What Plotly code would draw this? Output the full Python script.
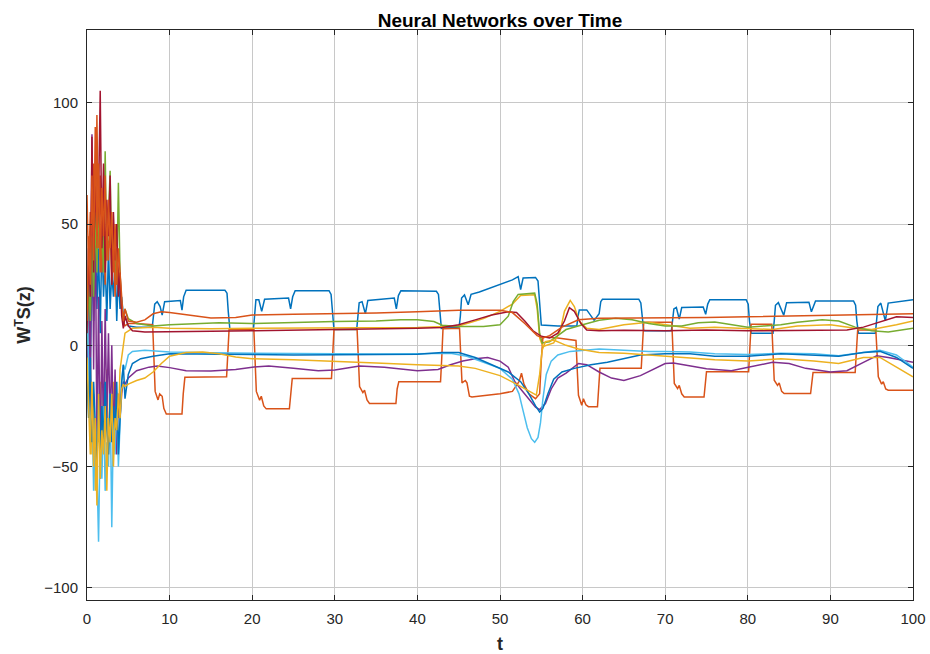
import plotly.graph_objects as go

# ---------------- data ----------------
t_noise = [0.0, 0.2, 0.4, 0.6, 0.8, 1.0, 1.2, 1.4, 1.6, 1.8, 2.0, 2.2, 2.4, 2.6, 2.8, 3.0,
           3.2, 3.4, 3.6, 3.8, 4.0, 4.2, 4.4]

# series 1: blue, upper square wave
y_noise_blue1 = [5, 20, -10, 35, 10, 50, 15, 40, 5, 45, 20, 35, 10, 40, 15, 30, 20, 35, 10, 30, 15, 20, 12]
t_blue1 = [4.6, 5.0, 6.0, 7.9,
           8.05, 8.2, 8.5, 8.85, 9.1, 9.4, 11.3, 11.5, 11.7, 12.0, 16.7, 16.95, 17.1, 17.3,
           20.15, 20.3, 20.45, 20.8, 21.15, 21.5, 24.4, 24.65, 24.9, 25.2, 29.3, 29.55, 29.7, 29.9,
           32.65, 32.8, 32.95, 33.3, 33.7, 34.0, 37.2, 37.45, 37.7, 38.0, 42.3, 42.55, 42.7, 42.9,
           45.05, 45.2, 45.35, 45.7, 46.15, 46.5, 47.5, 50.0, 51.5, 52.2, 52.5, 52.8, 54.3, 54.6, 54.8, 55.0,
           57.0, 59.3, 59.45, 59.6, 60.5, 61.0, 61.4, 62.0, 62.2, 62.4, 66.8, 67.05, 67.2, 67.4,
           70.75, 70.9, 71.05, 71.35, 71.7, 72.0, 74.6, 74.9, 75.15, 75.4, 79.8, 80.05, 80.2, 80.4,
           83.05, 83.2, 83.35, 83.7, 84.35, 84.7, 87.4, 87.7, 87.95, 88.2, 92.8, 93.05, 93.2, 93.4,
           95.45, 95.6, 95.75, 96.1, 96.65, 97.0, 100.0]
y_blue1 = [12, 8, 7.5, 7.5,
           12, 17, 18, 16, 12.5, 18, 18.5, 14.5, 20, 22.7, 22.7, 21.5, 14, 6.5,
           6.5, 12, 18.8, 18.8, 14, 19, 19.5, 15, 20, 22.5, 22.5, 21, 13, 6.5,
           6.5, 12, 17.5, 18, 13, 18.5, 19.5, 15, 20.5, 22.5, 22.3, 21, 13, 7,
           7.5, 12, 19.5, 20.8, 16.7, 21, 22, 25, 27, 28.3, 23, 27.8, 28, 26.5, 18, 8.4,
           8, 8, 12, 14.6, 14.6, 12, 10.3, 13, 18, 19, 19, 17.5, 11, 6,
           6, 10, 15, 15.6, 10.8, 15.6, 15.8, 12.8, 17, 18.8, 18.8, 17, 10, 5,
           5, 10, 16.5, 17.6, 12.4, 17.6, 17.8, 13.8, 16.5, 18.3, 18.3, 16.5, 10, 5,
           5, 10, 16, 17.4, 10.1, 17.4, 18.8]

# series 2: orange, lower square wave
y_noise_orange2 = [62, 30, 55, 20, 75, 35, 95, 40, 70, 30, 60, 25, 55, 35, 50, 25, 45, 20, 40, 30, 25, 15, 10]
t_orange2 = [4.6, 5.0, 6.0, 7.95,
             8.1, 8.25, 8.6, 8.8, 9.1, 9.3, 9.6, 11.5, 11.65, 11.85, 16.9, 17.05, 17.2,
             20.2, 20.35, 20.5, 20.9, 21.1, 21.4, 21.7, 24.5, 24.65, 24.85, 29.6, 29.75, 29.9,
             32.7, 32.85, 33.0, 33.4, 33.6, 33.9, 34.2, 37.4, 37.55, 37.75, 42.8, 42.95, 43.1,
             45.1, 45.25, 45.4, 45.8, 46.0, 46.3, 46.6, 50.0, 51.5, 52.3, 52.6, 52.9, 53.5, 54.3, 54.8, 55.0, 55.2, 57.0,
             59.2, 59.35, 59.5, 59.9, 60.1, 60.4, 60.7, 61.8, 61.95, 62.1, 67.1, 67.25, 67.4,
             70.8, 70.95, 71.1, 71.5, 71.7, 72.0, 72.3, 74.7, 74.85, 75.0, 80.1, 80.25, 80.4,
             82.9, 83.05, 83.2, 83.6, 83.8, 84.1, 84.4, 87.6, 87.75, 87.9, 93.0, 93.15, 93.3,
             95.5, 95.65, 95.8, 96.2, 96.4, 96.7, 97.0, 100.0]
y_orange2 = [8, 9, 9, 8.5,
             -8, -19, -22.5, -20, -21, -26, -28.3, -28.3, -20, -13.2, -13, -4, 6.5,
             6.5, -8, -19, -22.6, -21, -25, -26.2, -26.2, -20, -13.7, -13.7, -4, 6.5,
             6.5, -8, -17, -19.5, -18.5, -22.5, -24, -24, -18, -15, -15, -5, 6.8,
             7, -8, -15.5, -14.5, -15.5, -21, -21.3, -20, -19, -15, -11.5, -16, -20, -22, -20, -6, 3.5, 3,
             2, -10, -20.6, -24.7, -22, -24.5, -25.3, -25.3, -16, -9.5, -9.5, 0, 9.5,
             9.5, -8, -15.7, -17.8, -16.5, -20, -21.3, -21.3, -15, -10.9, -10.9, 0, 8.7,
             8.7, -6, -14.4, -16.5, -15.5, -19, -19.9, -19.9, -14, -11.2, -11.2, 0, 6.3,
             6.3, -6, -13, -16, -15, -18, -18.5, -18.5]

# series 3: yellow, upper
y_noise_yellow3 = [-10, -30, -5, -45, -20, -60, -25, -40, -15, -50, -20, -35, -10, -45, -25, -30, -15, -40, -20, -30, -10, -5, 2]
t_yellow3 = [4.6, 5.5, 8, 10, 15, 20, 30, 40, 45, 48, 50, 51.5, 52.5, 54.2, 54.5, 54.8, 55.2, 56.5,
             57.3, 57.8, 58.5, 59.0, 59.6, 60.5, 62, 65, 68, 70, 73, 76, 80, 83, 86, 90, 93, 95, 98, 100]
y_yellow3 = [5, 7, 7.5, 7, 6.8, 7, 7, 7.3, 8, 11, 14, 17, 20.5, 20.8, 15, 3, -0.5, 1,
             6, 14, 18.5, 16, 10, 7, 6.5, 8.5, 9.5, 8.5, 7, 7.5, 7, 6.5, 8, 8.5, 7, 6.5, 8.5, 10]

# series 4: purple
y_noise_purple4 = [-20, 40, -30, 87, -10, 60, -45, 20, -55, 10, -40, 15, -30, 5, -35, 0, -40, -10, -45, -20, -30, -20, -15]
t_purple4 = [4.6, 5.0, 6, 7.5, 8.5, 10, 12, 15, 18, 20, 22, 25, 28, 30, 33, 36, 40, 42.5, 44, 45.5, 47, 48.5,
             50, 51, 51.8, 52.5, 53.3, 54.3, 54.8, 55.5, 56.2, 57, 58, 59.5, 60.5, 62, 63.5, 65, 67, 70, 71,
             73, 75, 78, 80, 83, 85, 87, 90, 92, 94, 95.6, 97, 100]
y_purple4 = [-16, -13.5, -10.5, -9, -8.5, -9.2, -10.5, -10.6, -10, -9, -8.5, -9.5, -10.5, -10.2, -8.5, -9, -10.5, -10, -8, -6.5, -5.5, -5,
             -6.5, -9, -15, -18, -21.5, -25.5, -26.5, -24, -18, -13.5, -11.5, -7.5, -8, -11, -13.5, -14.5, -12.5, -7.5, -7.3,
             -8.5, -9.7, -10.5, -9, -7, -7.5, -9.5, -11, -10.5, -7, -4.3, -5, -7]

# series 5: green
y_noise_green5 = [0, 25, 10, 45, 20, 55, 30, 60, 35, 50, 30, 80, 35, 55, 72, 30, 50, 40, 25, 67, 30, 15, 10]
t_green5 = [4.6, 5, 6, 7, 8, 10, 13, 16, 20, 25, 30, 35, 38, 40, 42, 43, 45, 48, 50, 51, 51.6, 52.2, 54.2, 54.5,
            54.8, 55.1, 56, 57, 58, 60, 62, 64, 66, 68, 70, 72, 74, 76, 78, 80, 82, 84, 86, 89, 91, 93, 95, 97, 100]
y_green5 = [15, 11, 9, 8.5, 8, 8.5, 9, 9.3, 9, 9.5, 9.8, 10, 10.5, 10.5, 9.8, 8.3, 7.8, 7.8, 8.5, 12, 18, 21, 21.5, 17,
            5, 1, 1.5, 4, 6.5, 8.5, 10.3, 11.2, 10.5, 9, 8, 8, 9.3, 9.6, 8.5, 7.5, 8, 8.5, 9.5, 10.5, 10, 7.5, 6, 5.5, 7]

# series 6: light blue
y_noise_lblue6 = [20, -10, -40, -20, -60, -30, -50, -81, -35, -55, -25, -60, -40, -50, -20, -75, -30, -45, -20, -50, -30, -15, -8]
t_lblue6 = [4.6, 5.0, 5.5, 7, 10, 15, 20, 25, 30, 35, 40, 44, 46, 48, 50, 51.5, 52.3, 52.8, 53.3, 53.8, 54.2, 54.6,
            54.9, 55.2, 55.6, 56.2, 57, 58.5, 60, 62, 65, 68, 70, 73, 76, 80, 84, 88, 91, 94, 96, 98, 100]
y_lblue6 = [-10, -4, -2.5, -2, -2.8, -3.1, -3.3, -3.3, -3.5, -3.6, -3.5, -3.3, -4.5, -7, -9.5, -14, -20, -27, -34, -38.5, -40, -38,
            -32, -22, -12, -6.5, -4, -2.5, -2, -1.5, -2, -2.5, -2.5, -2.8, -3.5, -3.8, -3.3, -3.5, -4.3, -2.8, -2, -4, -9]

# series 7: dark red
y_noise_dred7 = [5, 40, 20, 86, 30, 70, 45, 60, 105, 40, 75, 30, 60, 45, 70, 25, 55, 35, 50, 20, 30, 12, 7]
t_dred7 = [4.6, 5, 5.5, 7, 10, 15, 20, 25, 30, 35, 40, 43, 45, 47, 49, 51, 52, 53, 54, 55, 56, 57, 57.8, 58.4,
           59, 59.8, 60.5, 62, 65, 70, 75, 80, 85, 90, 92, 94, 96, 98, 100]
y_dred7 = [12, 8, 6, 5.5, 5.5, 5.8, 6, 6.2, 6.5, 6.7, 7, 7.3, 8.5, 10.5, 12.5, 13.8, 13.5, 10, 6, 3.7, 3, 5, 10, 15.5,
           14, 9, 6.3, 6, 6.2, 6, 6.3, 6, 6.2, 6.4, 6.3, 7.5, 9.5, 11.8, 11.5]

# series 8: blue, lower
y_noise_blue8 = [-10, -30, -5, -40, -15, -35, -50, -20, -45, -25, -40, -15, -35, -45, -20, -40, -25, -35, -15, -45, -30, -15, -8]
t_blue8 = [4.6, 5.0, 5.5, 6.5, 8, 10, 15, 20, 25, 30, 35, 40, 43, 45, 47, 49, 51, 52.5, 53.5, 54.3, 54.8, 55.2,
           55.8, 56.5, 57.5, 59, 61, 63, 65, 67, 70, 73, 76, 80, 84, 88, 91, 94, 96, 98, 100]
y_blue8 = [-22, -12, -7.5, -5.5, -4.5, -3.5, -3.5, -3.8, -4, -4, -3.8, -3.7, -3, -3, -5, -8, -11, -15, -20, -25, -27.5, -26,
           -20, -14, -11, -9.5, -8, -7, -5.5, -4, -3.5, -3.5, -4.5, -4.5, -3.5, -4, -4.5, -3, -2.5, -5, -9.5]

# series 9: orange, upper smooth
y_noise_orange9 = [10, 45, 25, 70, 35, 90, 40, 75, 30, 65, 45, 70, 35, 60, 40, 55, 30, 50, 25, 40, 30, 18, 10]
t_orange9 = [4.6, 5, 6, 7, 8, 9, 10, 12, 15, 18, 20, 25, 30, 35, 40, 45, 50, 51.5, 53, 54.5, 55.2, 56, 57.5,
             59.5, 62, 66, 70, 75, 80, 85, 90, 95, 100]
y_orange9 = [15, 10, 9.5, 10.5, 13, 13.8, 13.5, 12.5, 11.3, 11.5, 12.5, 12.8, 13, 13.3, 13.8, 14.5, 14.5, 13.5, 9, 4, 3, 4, 7.5,
             10.5, 11.2, 11.2, 11.2, 11.5, 11.8, 12, 12.5, 12.7, 13]

# series 10: yellow, lower
y_noise_yellow10 = [-5, -25, -45, -15, -50, -30, -66, -20, -55, -35, -45, -25, -60, -30, -40, -20, -50, -30, -35, -20, -30, -18, -16]
t_yellow10 = [4.6, 5.0, 6, 7, 8, 9, 10, 12, 14, 16, 18, 20, 25, 30, 35, 40, 43, 45, 47, 50, 52, 53.5, 54.4, 54.8,
              55.1, 55.5, 56.5, 58, 59.5, 62, 65, 68, 70, 73, 76, 80, 84, 88, 91, 94, 96, 98, 100]
y_yellow10 = [-17, -16, -14.5, -13.5, -11, -7.5, -4.5, -3, -2.8, -3.5, -4.8, -5.5, -6, -6.8, -7.3, -8, -8.2, -8.5, -9.5, -12.5, -16, -19, -20.5, -12,
              -2, 1.5, 2.2, 0, -1.5, -3, -3.3, -4, -4.5, -5.5, -6, -6.5, -5.5, -6.5, -7.5, -5, -5, -9, -13]

x_ticks = [0, 10, 20, 30, 40, 50, 60, 70, 80, 90, 100]
y_ticks = [-100, -50, 0, 50, 100]

# ---------------- figure ----------------
series = [
    (y_noise_blue1, t_blue1, y_blue1, '#0072BD'),
    (y_noise_orange2, t_orange2, y_orange2, '#D95319'),
    (y_noise_yellow3, t_yellow3, y_yellow3, '#EDB120'),
    (y_noise_purple4, t_purple4, y_purple4, '#7E2F8E'),
    (y_noise_green5, t_green5, y_green5, '#77AC30'),
    (y_noise_lblue6, t_lblue6, y_lblue6, '#4DBEEE'),
    (y_noise_dred7, t_dred7, y_dred7, '#A2142F'),
    (y_noise_blue8, t_blue8, y_blue8, '#0072BD'),
    (y_noise_orange9, t_orange9, y_orange9, '#D95319'),
    (y_noise_yellow10, t_yellow10, y_yellow10, '#EDB120'),
]

fig = go.Figure()
for yn, tt, yt, col in series:
    fig.add_trace(go.Scatter(x=t_noise + tt, y=yn + yt, mode='lines',
                             line=dict(color=col, width=1.5),
                             showlegend=False, hoverinfo='skip'))

axis_common = dict(showline=True, linecolor='#262626', linewidth=1, mirror='ticks',
                   ticks='inside', ticklen=5, tickcolor='#262626',
                   showgrid=True, gridcolor='#c8c8c8', gridwidth=1, zeroline=False,
                   automargin=False,
                   tickfont=dict(size=15, color='#262626'))

fig.update_layout(
    width=930, height=654,
    margin=dict(l=87, r=17, t=30, b=54),
    paper_bgcolor='white', plot_bgcolor='white',
    font=dict(family='Liberation Sans, Arial, sans-serif', size=15, color='#262626'),
    title=dict(text='<b>Neural Networks over Time</b>', x=0.5, xref='paper', xanchor='center',
               y=1 - 20 / 654, yref='container', yanchor='middle', font=dict(size=19, color='#000000')),
    showlegend=False,
)
fig.update_xaxes(range=[0, 100], tickvals=x_ticks, ticklabelstandoff=5,
                 title=dict(text='<b>t</b>', font=dict(size=18, color='#262626'), standoff=12),
                 **axis_common)
fig.update_yaxes(range=[-105, 130], tickvals=y_ticks, ticklabelstandoff=5,
                 title=dict(text='<b>W<sup>T</sup>S(z)</b>', font=dict(size=18, color='#262626'), standoff=8),
                 **axis_common)

fig.write_html("out.html")
